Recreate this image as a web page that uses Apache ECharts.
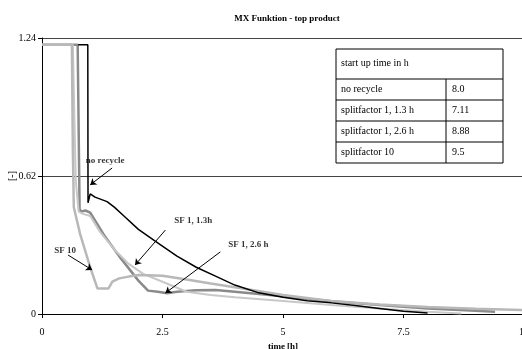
<!DOCTYPE html>
<html>
<head>
<meta charset="utf-8">
<script src="https://cdn.jsdelivr.net/npm/echarts@6/dist/echarts.min.js"></script>
<style>
  html, body { margin: 0; padding: 0; background: #fff; }
  #chart { width: 522px; height: 349px; }
</style>
</head>
<body>
<div id="chart"></div>
<script>
// ticks
const xTicks = [0, 2.5, 5, 7.5, 10];
const yTicks = [0, 0.62, 1.24];

// curves, [time h, value]
const noRecycle = [[0.75, 1.21], [0.95, 1.21], [0.955, 0.5], [1.0, 0.54], [1.1, 0.525], [1.35, 0.505], [1.5, 0.48],
  [1.7, 0.44], [2.0, 0.38], [2.4, 0.32], [2.8, 0.26], [3.2, 0.21], [3.6, 0.17], [4.0, 0.13], [4.5, 0.095],
  [5.0, 0.075], [5.5, 0.06], [6.0, 0.05], [6.5, 0.038], [7.0, 0.025], [7.5, 0.012], [8.0, 0.005]];
const sf13 = [[0, 1.21], [0.64, 1.21], [0.7, 0.6], [0.76, 0.46], [0.85, 0.45], [1.0, 0.44], [1.2, 0.37],
  [1.5, 0.29], [1.8, 0.225], [2.1, 0.18], [2.5, 0.145], [3.0, 0.1], [3.5, 0.085], [4.0, 0.075], [5.0, 0.058],
  [6.0, 0.04], [7.0, 0.025], [8.0, 0.01], [8.7, 0.002]];
const sf26 = [[0, 1.21], [0.74, 1.21], [0.78, 0.47], [0.82, 0.46], [0.9, 0.465], [1.0, 0.455], [1.1, 0.42],
  [1.3, 0.35], [1.6, 0.26], [2.0, 0.15], [2.2, 0.105], [2.4, 0.1], [2.6, 0.093], [2.8, 0.1], [3.2, 0.107],
  [3.6, 0.108], [4.0, 0.1], [5.0, 0.08], [6.0, 0.057], [7.0, 0.04], [8.0, 0.025], [9.0, 0.015], [9.4, 0.01]];
const sf10 = [[0, 1.21], [0.62, 1.21], [0.64, 0.74], [0.66, 0.48], [0.79, 0.36], [1.0, 0.21], [1.15, 0.115],
  [1.38, 0.115], [1.46, 0.145], [1.6, 0.16], [1.8, 0.168], [2.0, 0.175], [2.5, 0.172], [3.0, 0.155],
  [3.5, 0.137], [4.0, 0.12], [5.0, 0.085], [6.0, 0.058], [7.0, 0.043], [8.0, 0.032], [9.0, 0.024], [10.0, 0.018]];

// table
const tableHead = 'start up time in h';
const tableRows = ['no recycle', 'splitfactor 1, 1.3 h', 'splitfactor 1, 2.6 h', 'splitfactor 10'];
const tableValues = ['8.0', '7.11', '8.88', '9.5'];

// annotations
const labelNames = ['no recycle', 'SF 1, 1.3h', 'SF 1, 2.6 h', 'SF 10'];
const labelPos = [[1.31, 0.687], [3.14, 0.418], [4.28, 0.31], [0.48, 0.285]];
const arrowFrom = [[1.455, 0.656], [2.56, 0.377], [3.7, 0.279], [0.54, 0.265]];
const arrowTo = [[1.0, 0.58], [1.93, 0.22], [2.56, 0.094], [1.04, 0.198]];

const FONT = '"Liberation Serif", "Times New Roman", serif';

const chart = echarts.init(document.getElementById('chart'));

// table drawn as graphic
const tX = 336, tY = 49, tW = 167, headH = 30, rowH = 21, colX = 446;
const tableEls = [
  { type: 'rect', shape: { x: tX, y: tY, width: tW, height: headH + rowH * tableRows.length },
    style: { fill: '#fff', stroke: '#000', lineWidth: 1 } },
  { type: 'line', shape: { x1: colX, y1: tY + headH, x2: colX, y2: tY + headH + rowH * tableRows.length },
    style: { stroke: '#000', lineWidth: 1 } },
  { type: 'text', x: tX + 5, y: tY + 14, style: { text: tableHead, font: '10px ' + FONT, fill: '#000', verticalAlign: 'middle' } }
];
tableRows.forEach((r, i) => {
  const y = tY + headH + rowH * i;
  tableEls.push({ type: 'line', shape: { x1: tX, y1: y, x2: tX + tW, y2: y }, style: { stroke: '#000', lineWidth: 1 } });
  tableEls.push({ type: 'text', x: tX + 5, y: y + rowH / 2, style: { text: r, font: '10px ' + FONT, fill: '#000', verticalAlign: 'middle' } });
  tableEls.push({ type: 'text', x: colX + 6, y: y + rowH / 2, style: { text: tableValues[i], font: '10px ' + FONT, fill: '#000', verticalAlign: 'middle' } });
});
// y axis name, rotated
tableEls.push({ type: 'text', x: 12, y: 176, rotation: Math.PI / 2,
  style: { text: '[-]', font: '10px ' + FONT, fill: '#000', align: 'center', verticalAlign: 'middle' } });

chart.setOption({
  animation: false,
  title: {
    text: 'MX Funktion - top product',
    left: 282, top: 9, textAlign: 'center',
    textStyle: { fontFamily: FONT, fontSize: 9, fontWeight: 'bold', color: '#000' }
  },
  grid: { left: 42, right: -2, top: 38, bottom: 35, containLabel: false, outerBoundsMode: 'none' },
  xAxis: {
    type: 'value', min: xTicks[0], max: xTicks[xTicks.length - 1], interval: 2.5,
    name: 'time [h]', nameLocation: 'middle', nameGap: 27,
    nameTextStyle: { fontFamily: FONT, fontSize: 9, fontWeight: 'bold', color: '#000' },
    axisLine: { lineStyle: { color: '#000', width: 1 } },
    axisTick: { length: 4, lineStyle: { color: '#000' } },
    axisLabel: { fontFamily: FONT, fontSize: 10, color: '#000', margin: 13, showMaxLabel: true },
    splitLine: { show: false }
  },
  yAxis: {
    type: 'value', min: yTicks[0], max: yTicks[yTicks.length - 1], interval: 0.62,
    axisLine: { show: true, lineStyle: { color: '#000', width: 1 } },
    axisTick: { show: true, length: 4, lineStyle: { color: '#000' } },
    axisLabel: { fontFamily: FONT, fontSize: 10, color: '#000', margin: 6 },
    splitLine: { show: true, lineStyle: { color: '#444', width: 1 } }
  },
  series: [
    { name: 'SF 1, 2.6 h', type: 'line', data: sf26, symbol: 'none', lineStyle: { color: '#8a8a8a', width: 2.5 } },
    { name: 'SF 1, 1.3h', type: 'line', data: sf13, symbol: 'none', lineStyle: { color: '#c8c8c8', width: 2 } },
    { name: 'SF 10', type: 'line', data: sf10, symbol: 'none', lineStyle: { color: '#b8b8b8', width: 2.5 } },
    {
      name: 'no recycle', type: 'line', data: noRecycle, symbol: 'none', lineStyle: { color: '#000', width: 1.5 },
      markLine: {
        silent: true, symbol: ['none', 'arrow'], symbolSize: 6,
        label: { show: false },
        lineStyle: { color: '#000', width: 1, type: 'solid' },
        data: arrowFrom.map((f, i) => [{ coord: f }, { coord: arrowTo[i] }])
      }
    },
    {
      type: 'scatter', symbolSize: 0, silent: true,
      data: labelNames.map((n, i) => ({ name: n, value: labelPos[i] })),
      label: { show: true, position: 'inside', formatter: p => p.name,
        fontFamily: FONT, fontSize: 9, fontWeight: 'bold', color: '#000' }
    }
  ],
  graphic: tableEls
});
</script>
</body>
</html>
